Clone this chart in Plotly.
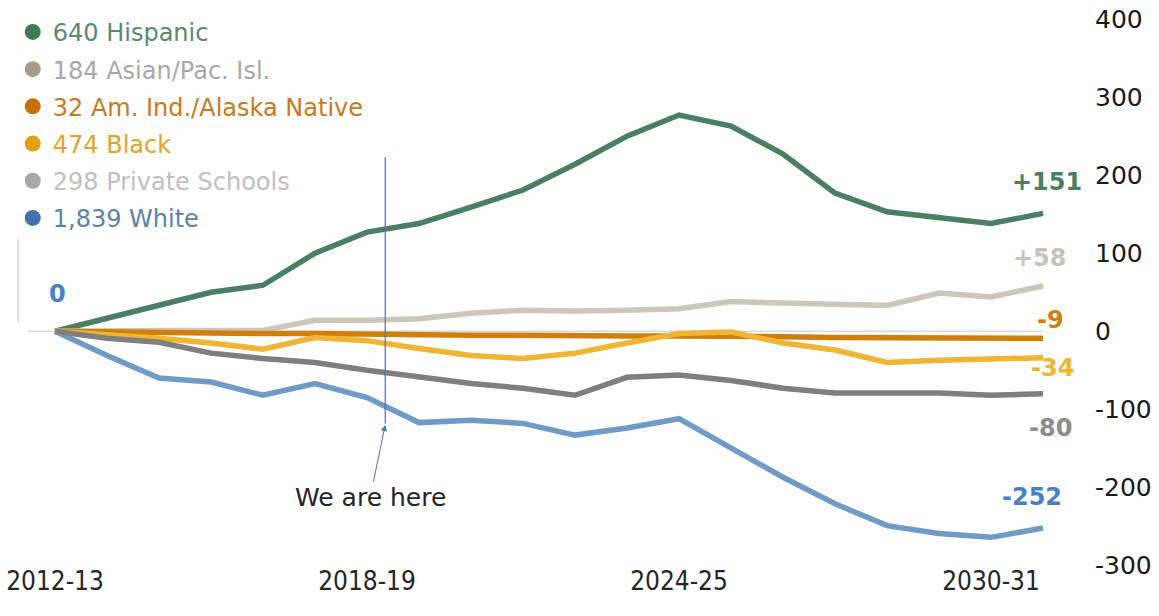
import plotly.graph_objects as go

years = ["2012-13", "2013-14", "2014-15", "2015-16", "2016-17", "2017-18", "2018-19",
         "2019-20", "2020-21", "2021-22", "2022-23", "2023-24", "2024-25", "2025-26",
         "2026-27", "2027-28", "2028-29", "2029-30", "2030-31", "2031-32"]
tick_labels = ["2012-13", "2018-19", "2024-25", "2030-31"]
y_ticks = [-300, -200, -100, 0, 100, 200, 300, 400]

hispanic = [0, 17, 33, 50, 59, 100, 127, 138, 159, 181, 214, 250, 277, 263, 227, 177, 153, 145, 138, 151]
asian = [0, 1, 1, 1, 1, 14, 14, 16, 23, 27, 26, 27, 29, 38, 36, 34, 33, 49, 44, 58]
am_ind = [0, -1, -2, -3, -3, -3, -4, -4, -5, -5, -6, -6, -6, -6, -7, -8, -8, -8, -9, -9]
black = [0, -4, -9, -15, -23, -8, -12, -22, -31, -35, -28, -15, -3, -1, -15, -24, -40, -37, -36, -34]
private = [0, -9, -14, -28, -35, -40, -50, -59, -67, -73, -82, -59, -56, -63, -73, -79, -79, -79, -82, -80]
white = [0, -31, -60, -65, -82, -67, -85, -117, -114, -118, -133, -124, -112, -149, -187, -221, -249, -259, -264, -252]

legend_names = ["640 Hispanic", "184 Asian/Pac. Isl.", "32 Am. Ind./Alaska Native",
                "474 Black", "298 Private Schools", "1,839 White"]
series = [hispanic, asian, am_ind, black, private, white]

we_are_here = "We are here"

# positions along the year axis
xs = list(range(len(years)))
tick_pos = [years.index(t) for t in tick_labels]

# styles: (line colour, legend dot colour, legend text colour, end label colour, label xshift, label yshift)
styles = [
    ("#4a7f63", "#3f7a5c", "#5a8a70", "#4a7f63", 4, 31),
    ("#cdc7bb", "#a59c8c", "#a8a8a8", "#c9c4b8", -3, 28),
    ("#d07f0a", "#c87000", "#c87a1c", "#d07f0a", 7, 18),
    ("#efb533", "#e4a010", "#e0a428", "#efb533", 9, -10),
    ("#7f7f7f", "#a8a8a8", "#c0c0c0", "#8c8c8c", 7, -34),
    ("#6f9bc6", "#3e72a8", "#5b82ad", "#4a80c8", -11, 31),
]

FONT = "DejaVu Sans"
fig = go.Figure()

draw_order = [5, 0, 1, 2, 3, 4]
for i in draw_order:
    fig.add_trace(go.Scatter(
        x=xs, y=series[i], mode="lines",
        line=dict(color=styles[i][0], width=5.5),
        showlegend=False, legendgroup=f"g{i}", hoverinfo="skip",
        customdata=years,
    ))

for i, name in enumerate(legend_names):
    fig.add_trace(go.Scatter(
        x=[None], y=[None], mode="markers",
        marker=dict(color=styles[i][1], size=16),
        name=f'<span style="color:{styles[i][2]}">{name}</span>',
        legendgroup=f"g{i}", showlegend=True,
    ))

# end-value labels
for i, s in enumerate(series):
    fig.add_annotation(
        x=xs[-1], y=s[-1], text=f"<b>{s[-1]:+d}</b>",
        showarrow=False, xshift=styles[i][4], yshift=styles[i][5],
        font=dict(family=FONT, size=24, color=styles[i][3]),
    )
# starting label
fig.add_annotation(
    x=xs[0], y=white[0], text=f"<b>{white[0]}</b>", showarrow=False,
    xshift=2, yshift=37, font=dict(family=FONT, size=24, color="#4a80c8"),
)

# "We are here" marker
here_x = 6.35
fig.add_shape(type="line", x0=here_x, x1=here_x, y0=-118, y1=223, xref="x", yref="y",
              line=dict(color="#4472c4", width=1.2))
fig.add_annotation(
    x=here_x, y=-120, ax=6.06, ay=-213, axref="x", ayref="y", xref="x", yref="y",
    text=we_are_here, showarrow=True, arrowhead=2, arrowsize=1.2, arrowwidth=1,
    arrowcolor="#4472c4", standoff=0,
    font=dict(family=FONT, size=25, color="#262626"),
)

# zero line and small left rule
fig.add_shape(type="line", x0=-0.52, x1=19.0, y0=0, y1=0, xref="x", yref="y",
              line=dict(color="#d9d9d9", width=1.5), layer="below")
fig.add_shape(type="line", x0=-0.71, x1=-0.71, y0=11, y1=119, xref="x", yref="y",
              line=dict(color="#d9d9d9", width=1.5), layer="below")

fig.update_xaxes(
    type="linear", range=[-1.058, 19.865], tickvals=tick_pos, ticktext=tick_labels,
    showgrid=False, zeroline=False, showline=False, ticks="",
    tickfont=dict(family="DejaVu Sans Condensed, DejaVu Sans", size=26, color="#262626"),
    ticklabelstandoff=-4, automargin=False,
)
fig.update_yaxes(
    side="right", range=[-302, 418], tickvals=y_ticks,
    ticktext=[str(v) for v in y_ticks],
    showgrid=False, zeroline=False, showline=False, ticks="",
    tickfont=dict(family=FONT, size=25, color="#1a1a1a"),
    ticklabelstandoff=6, automargin=False,
)

fig.update_layout(
    width=1159, height=616,
    margin=dict(l=0, r=71, t=5, b=49.4, autoexpand=False),
    plot_bgcolor="white", paper_bgcolor="white",
    showlegend=True,
    legend=dict(
        x=0.011, y=0.984, xref="container", yref="container", xanchor="left", yanchor="top",
        font=dict(family=FONT, size=24), tracegroupgap=3, itemwidth=30,
        bgcolor="rgba(0,0,0,0)", traceorder="grouped",
    ),
    hovermode=False,
)

fig.write_html("out.html")
